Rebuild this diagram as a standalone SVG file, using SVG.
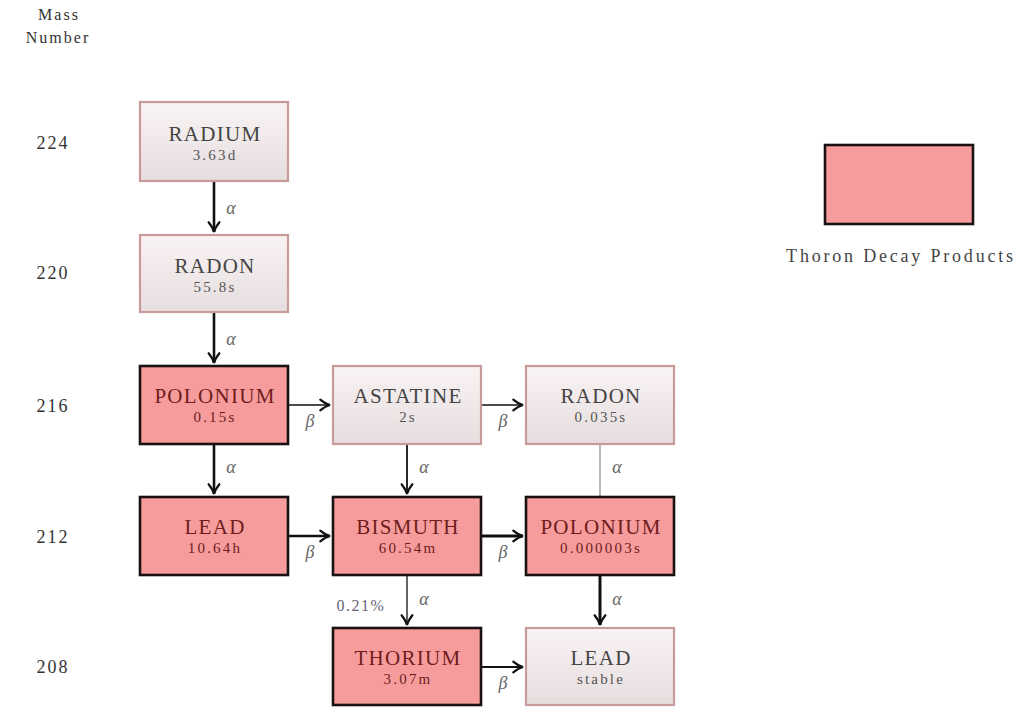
<svg xmlns="http://www.w3.org/2000/svg" width="1024" height="708" viewBox="0 0 1024 708">
<defs>
<linearGradient id="lg" x1="0" y1="0" x2="0" y2="1">
<stop offset="0" stop-color="#faf3f3"/>
<stop offset="1" stop-color="#e6dede"/>
</linearGradient>
<marker id="ah" viewBox="-1 -1 12 12" refX="9" refY="5" markerWidth="13" markerHeight="13" orient="auto" markerUnits="userSpaceOnUse" overflow="visible">
<path d="M0,0 Q5,4 9,5 Q5,6 0,10" fill="none" stroke="#111" stroke-width="2" stroke-linecap="round"/>
</marker>
</defs>
<style>
text{font-family:"Liberation Serif","DejaVu Serif",serif;text-anchor:middle}
.lbl{font-size:18px;fill:#333;letter-spacing:2px}
.hot rect{fill:#f79c9c;stroke:#1a1212;stroke-width:2.6}
.cool rect{fill:url(#lg);stroke:#c99a9a;stroke-width:2.2}
.n{font-size:21px;letter-spacing:1.3px}
.t{font-size:15px;letter-spacing:2.2px}
.hot .n,.hot .t{fill:#6e1c1c}
.cool .n{fill:#444}
.cool .t{fill:#555}
.a{fill:none;stroke:#111}
.g{font-size:18px;fill:#666;font-style:italic}
.gn{font-size:16px;fill:#667;letter-spacing:1.5px}
</style>
<g id="axis">
<text class="lbl" x="59" y="20" style="font-size:16px">Mass</text>
<text class="lbl" x="58" y="43" style="font-size:16px">Number</text>
<text class="lbl" x="53" y="149">224</text>
<text class="lbl" x="53" y="279">220</text>
<text class="lbl" x="53" y="412">216</text>
<text class="lbl" x="53" y="543">212</text>
<text class="lbl" x="53" y="673">208</text>
</g>
<g id="connectors">
<line class="a" x1="214" y1="181" x2="214" y2="232" stroke-width="2.6" marker-end="url(#ah)"/>
<line class="a" x1="214" y1="312" x2="214" y2="363" stroke-width="2.6" marker-end="url(#ah)"/>
<line class="a" x1="288" y1="405" x2="330" y2="405" stroke-width="1.6" marker-end="url(#ah)"/>
<line class="a" x1="481" y1="405" x2="523" y2="405" stroke-width="1.6" marker-end="url(#ah)"/>
<line class="a" x1="214" y1="444" x2="214" y2="494" stroke-width="2.6" marker-end="url(#ah)"/>
<line class="a" x1="407" y1="444" x2="407" y2="494" stroke-width="1.8" marker-end="url(#ah)"/>
<line x1="600" y1="444" x2="600" y2="497" stroke="#888" stroke-width="1.2"/>
<line class="a" x1="288" y1="536" x2="330" y2="536" stroke-width="2.6" marker-end="url(#ah)"/>
<line class="a" x1="481" y1="536" x2="523" y2="536" stroke-width="3" marker-end="url(#ah)"/>
<line class="a" x1="407" y1="575" x2="407" y2="625" stroke-width="1.3" marker-end="url(#ah)"/>
<line class="a" x1="600" y1="575" x2="600" y2="625" stroke-width="3" marker-end="url(#ah)"/>
<line class="a" x1="481" y1="667" x2="523" y2="667" stroke="#333" stroke-width="2.2" marker-end="url(#ah)"/>
<text class="g" x="231" y="214">α</text>
<text class="g" x="231" y="345">α</text>
<text class="g" x="231" y="473">α</text>
<text class="g" x="424" y="473">α</text>
<text class="g" x="617" y="473">α</text>
<text class="g" x="424" y="605">α</text>
<text class="g" x="617" y="605">α</text>
<text class="gn" x="361" y="611">0.21%</text>
<text class="g" x="310" y="427">β</text>
<text class="g" x="503" y="427">β</text>
<text class="g" x="310" y="558">β</text>
<text class="g" x="503" y="558">β</text>
<text class="g" x="503" y="689">β</text>
</g>
<g id="radium224" class="cool"><rect x="140" y="102" width="148" height="79"/><text class="n" x="215" y="141">RADIUM</text><text class="t" x="215" y="160">3.63d</text></g>
<g id="radon220" class="cool"><rect x="140" y="235" width="148" height="77"/><text class="n" x="215" y="273">RADON</text><text class="t" x="215" y="292">55.8s</text></g>
<g id="polonium216" class="hot"><rect x="140" y="366" width="148" height="78"/><text class="n" x="215" y="403">POLONIUM</text><text class="t" x="215" y="422">0.15s</text></g>
<g id="astatine216" class="cool"><rect x="333" y="366" width="148" height="78"/><text class="n" x="408" y="403">ASTATINE</text><text class="t" x="408" y="422">2s</text></g>
<g id="radon216" class="cool"><rect x="526" y="366" width="148" height="78"/><text class="n" x="601" y="403">RADON</text><text class="t" x="601" y="422">0.035s</text></g>
<g id="lead212" class="hot"><rect x="140" y="497" width="148" height="78"/><text class="n" x="215" y="534">LEAD</text><text class="t" x="215" y="553">10.64h</text></g>
<g id="bismuth212" class="hot"><rect x="333" y="497" width="148" height="78"/><text class="n" x="408" y="534">BISMUTH</text><text class="t" x="408" y="553">60.54m</text></g>
<g id="polonium212" class="hot"><rect x="526" y="497" width="148" height="78"/><text class="n" x="601" y="534">POLONIUM</text><text class="t" x="601" y="553">0.000003s</text></g>
<g id="thorium208" class="hot"><rect x="333" y="628" width="148" height="77"/><text class="n" x="408" y="665">THORIUM</text><text class="t" x="408" y="684">3.07m</text></g>
<g id="lead208" class="cool"><rect x="526" y="628" width="148" height="77"/><text class="n" x="601" y="665">LEAD</text><text class="t" x="601" y="684">stable</text></g>
<g id="legend" class="hot"><rect x="825" y="145" width="148" height="79"/><text x="901" y="262" style="font-size:18px;fill:#444;letter-spacing:2.8px">Thoron Decay Products</text></g>
</svg>
